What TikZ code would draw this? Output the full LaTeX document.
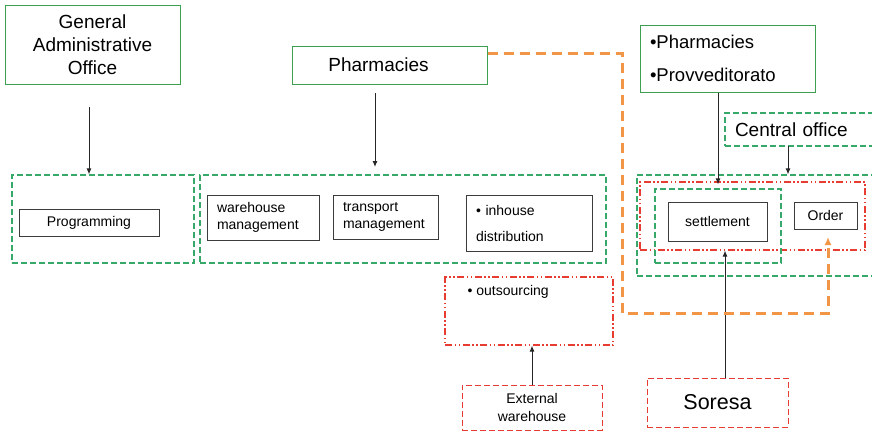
\documentclass[tikz,border=0pt]{standalone}
\usepackage{fontspec}
\setmainfont{Liberation Sans}
\usetikzlibrary{arrows.meta}
\definecolor{solidgreen}{RGB}{60,160,80}
\definecolor{dashgreen}{RGB}{55,168,105}
\definecolor{dashred}{RGB}{230,60,50}
\definecolor{flowor}{RGB}{240,150,70}
\definecolor{boxgray}{RGB}{60,60,60}
\begin{document}
\begin{tikzpicture}[x=1pt, y=-1pt,
  head/.style={rectangle, draw=solidgreen, line width=1pt, align=center, inner sep=2pt},
  group/.style={rectangle, draw=dashgreen, line width=1.1pt, dash pattern=on 6pt off 3pt},
  redgroup/.style={rectangle, draw=dashred, line width=1.1pt, dash pattern=on 7pt off 2.5pt on 1.5pt off 2.5pt on 1.5pt off 2.5pt},
  redbox/.style={rectangle, draw=dashred, line width=1pt, dash pattern=on 6pt off 3pt, align=center},
  task/.style={rectangle, draw=boxgray, line width=1pt, font=\fontsize{14}{17}\selectfont},
  arrow/.style={-{Latex[length=6pt,width=5pt]}, line width=1pt, draw=black!85},
  flow/.style={-{Latex[length=8pt,width=7pt]}, draw=flowor, line width=3pt, dash pattern=on 10pt off 6pt},
]
  \useasboundingbox (0,0) rectangle (872,431);

  % top level
  \node[head, minimum width=175pt, minimum height=79pt, font=\fontsize{19}{23}\selectfont] (gao) at (92.5,44.5) {General\\Administrative\\Office};
  \node[head, minimum width=195pt, minimum height=38pt, font=\fontsize{19}{22}\selectfont] (pharm) at (389.5,65) {\hspace{-22pt}Pharmacies};
  \node[head, inner xsep=10pt, text width=155pt, minimum height=67pt, font=\fontsize{18.5}{22}\selectfont, align=left] (pp) at (727.5,58.5) {\textbullet Pharmacies\\[11pt]\textbullet Provveditorato};
  \node[group, inner xsep=10pt, text width=128pt, minimum height=33pt, font=\fontsize{19}{22}\selectfont, align=left] (central) at (799,129.5) {Central office};

  % groups
  \node[group, minimum width=182pt, minimum height=88pt] (proggrp) at (103,219) {};
  \node[group, minimum width=406pt, minimum height=88pt] (logigrp) at (403,219) {};
  \node[group, minimum width=236pt, minimum height=101pt] (outer) at (755,225.5) {};
  \node[redgroup, minimum width=225pt, minimum height=68pt] (redgrp) at (752.5,216) {};
  \node[group, minimum width=126pt, minimum height=74pt] (setgrp) at (718,226) {};
  \node[redgroup, minimum width=168pt, minimum height=68pt] (outs) at (529,311) {};
  \node[anchor=west, font=\fontsize{14}{17}\selectfont] (outstxt) at (464,292) {\textbullet\ outsourcing};

  % tasks
  \node[task, minimum width=140pt, minimum height=27pt] (prog) at (89,222.5) {Programming};
  \node[task, inner xsep=10pt, text width=92pt, minimum height=45pt, align=left] (wh) at (263,217.5) {warehouse\\management};
  \node[task, inner xsep=10pt, text width=85pt, minimum height=44pt, align=left] (tr) at (385.5,217) {transport\\management};
  \node[task, inner xsep=10pt, text width=106pt, minimum height=56pt, align=left] (inh) at (529,223) {\textbullet\ inhouse\\[9pt]distribution};
  \node[task, minimum width=99pt, minimum height=39pt] (settle) at (717.5,221.5) {settlement};
  \node[task, minimum width=63pt, minimum height=27pt] (order) at (825.5,215.5) {Order};

  % bottom
  \node[redbox, minimum width=140pt, minimum height=45pt, font=\fontsize{14}{18}\selectfont] (ext) at (532,407.5) {External\\warehouse};
  \node[redbox, minimum width=141pt, minimum height=49pt, font=\fontsize{21.5}{25}\selectfont] (soresa) at (717.5,402.5) {Soresa};

  % connectors
  \coordinate (ca) at (89,107);
  \coordinate (cb) at (375,93);
  \coordinate (cc) at (375,167);
  \coordinate (cd) at (788,146);
  \coordinate (ce) at (725,378);
  \coordinate (fa) at (622,53);
  \coordinate (fb) at (622,313);
  \coordinate (fc) at (828,313);
  \coordinate (fd) at (828,237);
  \draw[arrow] (ca) -- (ca |- proggrp.north);
  \draw[arrow] (cb) -- (cc);
  \draw[arrow] (pp.south -| setgrp.north) -- ([yshift=4pt]setgrp.north);
  \draw[arrow] (cd) -- (cd |- outer.north);
  \draw[arrow] (ext.north) -- (outs.south -| ext.north);
  \draw[arrow] (ce) -- (ce |- redgrp.south);
  \draw[flow] ([yshift=12pt]pharm.east) -- (fa) -- (fb) -- (fc) -- (fd);
\end{tikzpicture}
\end{document}
